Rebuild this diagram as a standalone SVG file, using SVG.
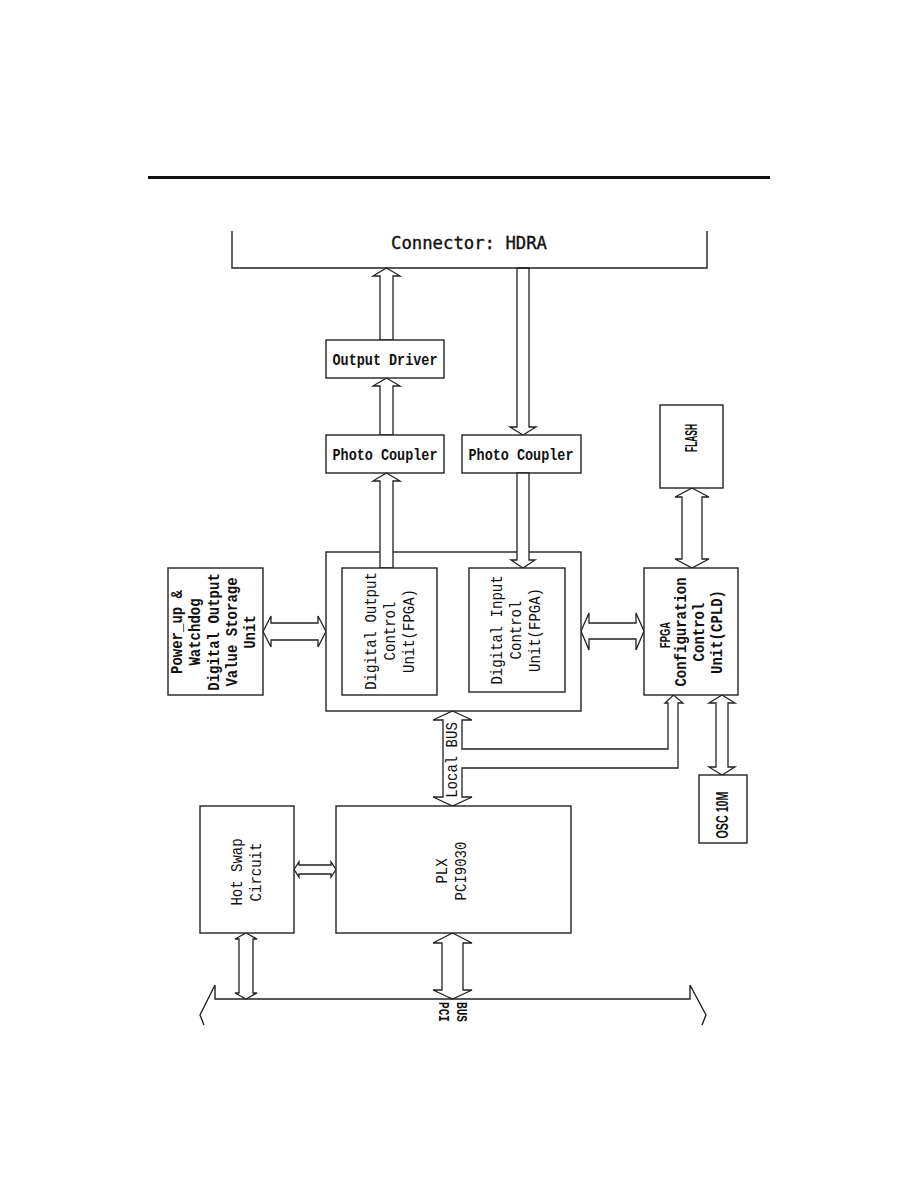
<svg xmlns="http://www.w3.org/2000/svg" width="918" height="1188" viewBox="0 0 918 1188">
<style>
.box{fill:#fff;stroke:#222;stroke-width:1.4}
.ln{fill:none;stroke:#222;stroke-width:1.4}
.arr{fill:#fff;stroke:#222;stroke-width:1.3;stroke-linejoin:miter}
.t{font-family:"Liberation Mono","DejaVu Sans Mono",monospace;font-size:14px;fill:#111}
.b{font-weight:bold}
.s{font-family:"Liberation Sans",Arial,sans-serif;font-weight:bold;fill:#111}
</style>
<rect width="918" height="1188" fill="#fff"/>
<line x1="148" y1="177.5" x2="770" y2="177.5" stroke="#111" stroke-width="3"/>

<g id="connectors">
<polygon class="arr" points="386.5,268 400,276 393,276 393,340 380,340 380,276 373,276"/>
<polygon class="arr" points="386.5,378 400,386 393,386 393,435 380,435 380,386 373,386"/>
<polygon class="arr" points="523,435 536,427 529,427 529,268 517,268 517,427 510,427"/>
<polygon class="arr" points="263,631.5 271,616 271,623 318,623 318,616 326,631.5 318,647 318,640 271,640 271,647"/>
<polygon class="arr" points="581,631 589,613 589,623 636,623 636,613 644,631 636,650 636,639 589,639 589,650"/>
<polygon class="arr" points="692,488 709,497 702,497 702,559 709,559 692,568 675,559 682,559 682,497 675,497"/>
<polygon class="arr" points="722,695 735,703 728,703 728,767 735,767 722,775 709,767 716,767 716,703 709,703"/>
<polygon class="arr" points="452.5,711 472,720 462,720 462,749 668,749 668,703 665,703 673.5,695 683,703 678,703 678,768 462,768 462,797 472,797 452.5,806 433,797 443,797 443,720 433,720"/>
<polygon class="arr" points="294,869.5 299,862 299,865 331,865 331,862 336,869.5 331,877 331,874 299,874 299,877"/>
<polygon class="arr" points="246,933 257,939 253,939 253,993 257,993 246,999 235,993 239,993 239,939 235,939"/>
<polygon class="arr" points="452.5,933 472,943 463,943 463,990 472,990 452.5,999 433,990 442,990 442,943 433,943"/>
<text class="t" font-size="13.5" transform="translate(457,760) rotate(-90) scale(1,1.15)" text-anchor="middle">Local BUS</text>
</g>

<g id="connector-hdra">
<path class="ln" d="M232,231 L232,268 L707,268 L707,231"/>
<text x="469" y="249" font-family="'DejaVu Sans Mono',monospace" font-size="18.5" fill="#111" stroke="#111" stroke-width="0.4" text-anchor="middle" textLength="156" lengthAdjust="spacingAndGlyphs">Connector: HDRA</text>
</g>

<g id="output-driver">
<rect class="box" x="326" y="340" width="118" height="38"/>
<text class="t b" transform="translate(385,365) scale(1,1.15)" text-anchor="middle" textLength="105" lengthAdjust="spacingAndGlyphs">Output Driver</text>
</g>

<g id="photo-coupler-1">
<rect class="box" x="326" y="435" width="118" height="38"/>
<text class="t b" transform="translate(385,460) scale(1,1.15)" text-anchor="middle" textLength="105" lengthAdjust="spacingAndGlyphs">Photo Coupler</text>
</g>

<g id="photo-coupler-2">
<rect class="box" x="462" y="435" width="119" height="38"/>
<text class="t b" transform="translate(521,460) scale(1,1.15)" text-anchor="middle" textLength="105" lengthAdjust="spacingAndGlyphs">Photo Coupler</text>
</g>

<g id="fpga-group">
<rect class="box" x="326" y="552" width="255" height="159"/>
</g>

<g id="connectors-inner">
<polygon class="arr" points="386.5,473 400,481 393,481 393,568 380,568 380,481 373,481"/>
<polygon class="arr" points="523,568 535,560 529,560 529,473 517,473 517,560 511,560"/>
</g>

<g id="digital-output">
<rect class="box" x="342" y="568" width="95" height="127"/>
<text class="t" transform="translate(376,631) rotate(-90) scale(1,1.15)" text-anchor="middle">Digital Output</text>
<text class="t" transform="translate(395,631) rotate(-90) scale(1,1.15)" text-anchor="middle">Control</text>
<text class="t" transform="translate(414,631) rotate(-90) scale(1,1.15)" text-anchor="middle">Unit(FPGA)</text>
</g>

<g id="digital-input">
<rect class="box" x="469" y="568" width="96" height="124"/>
<text class="t" transform="translate(502,630) rotate(-90) scale(1,1.15)" text-anchor="middle">Digital Input</text>
<text class="t" transform="translate(521,630) rotate(-90) scale(1,1.15)" text-anchor="middle">Control</text>
<text class="t" transform="translate(540,630) rotate(-90) scale(1,1.15)" text-anchor="middle">Unit(FPGA)</text>
</g>

<g id="power-up">
<rect class="box" x="168" y="568" width="95" height="127"/>
<text class="t b" transform="translate(182,632) rotate(-90) scale(1,1.2)" text-anchor="middle">Power_up &amp;</text>
<text class="t b" transform="translate(200,632) rotate(-90) scale(1,1.2)" text-anchor="middle">Watchdog</text>
<text class="t b" transform="translate(219,632) rotate(-90) scale(1,1.2)" text-anchor="middle">Digital Output</text>
<text class="t b" transform="translate(237,632) rotate(-90) scale(1,1.2)" text-anchor="middle">Value Storage</text>
<text class="t b" transform="translate(255,632) rotate(-90) scale(1,1.2)" text-anchor="middle">Unit</text>
</g>

<g id="flash">
<rect class="box" x="660" y="405" width="63" height="83"/>
<text class="s" font-size="16" transform="translate(697,438) rotate(-90)" text-anchor="middle" textLength="28" lengthAdjust="spacingAndGlyphs">FLASH</text>
</g>

<g id="fpga-config">
<rect class="box" x="644" y="568" width="94" height="127"/>
<text class="s" font-size="15" transform="translate(670,635) rotate(-90)" text-anchor="middle" textLength="26" lengthAdjust="spacingAndGlyphs">FPGA</text>
<text class="t b" transform="translate(686,632) rotate(-90) scale(1,1.15)" text-anchor="middle">Configuration</text>
<text class="t b" transform="translate(704,632) rotate(-90) scale(1,1.15)" text-anchor="middle">Control</text>
<text class="t b" transform="translate(722,632) rotate(-90) scale(1,1.15)" text-anchor="middle">Unit(CPLD)</text>
</g>

<g id="osc">
<rect class="box" x="699" y="775" width="48" height="68"/>
<text class="s" font-size="17" transform="translate(728,815) rotate(-90)" text-anchor="middle" textLength="47" lengthAdjust="spacingAndGlyphs">OSC 10M</text>
</g>

<g id="hot-swap">
<rect class="box" x="200" y="806" width="94" height="127"/>
<text class="t" font-size="12.5" transform="translate(242,872) rotate(-90) scale(1,1.15)" text-anchor="middle">Hot Swap</text>
<text class="t" font-size="12.5" transform="translate(261,872) rotate(-90) scale(1,1.15)" text-anchor="middle">Circuit</text>
</g>

<g id="plx">
<rect class="box" x="336" y="806" width="235" height="127"/>
<text class="t" font-size="13" transform="translate(447,871) rotate(-90) scale(1,1.15)" text-anchor="middle">PLX</text>
<text class="t" font-size="13" transform="translate(466,871) rotate(-90) scale(1,1.15)" text-anchor="middle">PCI9030</text>
</g>

<g id="pci-bus">
<path class="ln" d="M215,985 L215,999 L690,999 L690,985 M215,985 L200,1015 L204,1025 M690,985 L706,1015 L702,1025"/>
<text class="t b" font-size="11" transform="translate(439,1002) rotate(90)" textLength="20" lengthAdjust="spacingAndGlyphs">PCI</text>
<text class="t b" font-size="11" transform="translate(457,1002) rotate(90)" textLength="20" lengthAdjust="spacingAndGlyphs">BUS</text>
</g>
</svg>
